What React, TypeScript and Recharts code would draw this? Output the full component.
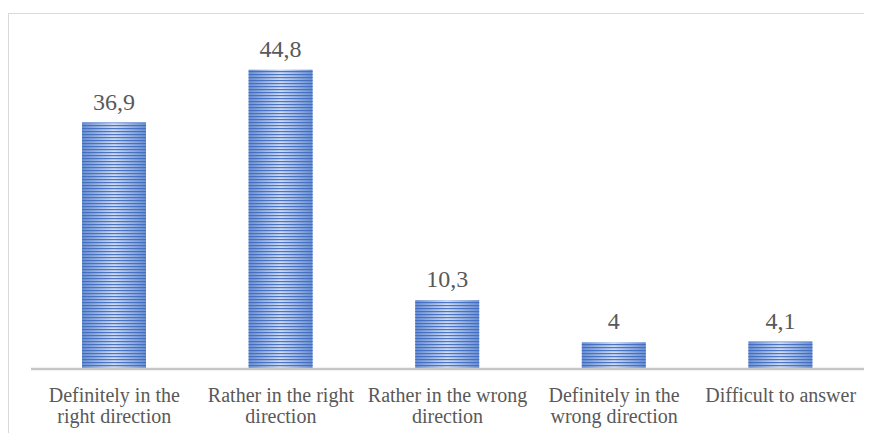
import React from "react";
import { BarChart, Bar, XAxis, YAxis, LabelList } from "recharts";

const categories = [
  "Definitely in the right direction",
  "Rather in the right direction",
  "Rather in the wrong direction",
  "Definitely in the wrong direction",
  "Difficult to answer",
];
const values = [36.9, 44.8, 10.3, 4, 4.1];
const tickLines = [
  ["Definitely in the", "right direction"],
  ["Rather in the right", "direction"],
  ["Rather in the wrong", "direction"],
  ["Definitely in the", "wrong direction"],
  ["Difficult to answer"],
];

const data = categories.map((name, i) => ({ name, value: values[i] }));

const FONT = "Liberation Serif, Times New Roman, serif";
const GREY = "#595959";

const CategoryTick = (props: any) => {
  const { x, y, index } = props;
  const lines = tickLines[index] || [];
  return (
    <g>
      {lines.map((line, i) => (
        <text
          key={i}
          x={x}
          y={y + 33 + i * 21}
          textAnchor="middle"
          fill={GREY}
          style={{ fontFamily: FONT, fontSize: 20 }}
        >
          {line}
        </text>
      ))}
    </g>
  );
};

const ValueLabel = (props: any) => {
  const { x, y, width, value } = props;
  return (
    <text
      x={x + width / 2}
      y={y - 13}
      textAnchor="middle"
      fill={GREY}
      style={{ fontFamily: FONT, fontSize: 24 }}
    >
      {String(value).replace(".", ",")}
    </text>
  );
};

const StripedBar = (props: any) => {
  const { x, y, width, height } = props;
  if (!height || height <= 0) return null;
  return (
    <g>
      <rect x={x} y={y} width={width} height={height} fill="url(#barGrad)" />
      <rect x={x} y={y} width={width} height={height} fill="url(#barStripes)" />
    </g>
  );
};

const App = () => {
  return (
    <div style={{ marginTop: 5, width: 870, height: 425, borderTop: "1.5px solid #d9d9d9", borderLeft: "1.5px solid #d9d9d9", boxSizing: "border-box" }}>
      <svg width={0} height={0} style={{ position: "absolute" }}>
        <defs>
          <linearGradient id="barGrad" x1="0" y1="0" x2="1" y2="0">
            <stop offset="0%" stopColor="#6a8fd2" />
            <stop offset="50%" stopColor="#cfdcf2" />
            <stop offset="100%" stopColor="#6a8fd2" />
          </linearGradient>
          <pattern id="barStripes" patternUnits="userSpaceOnUse" width={8} height={3}>
            <rect x={0} y={0} width={8} height={1.2} fill="#3e6bc0" fillOpacity={0.9} />
          </pattern>
        </defs>
      </svg>
      <BarChart
        width={864}
        height={420}
        data={data}
        margin={{ top: 21, left: 22, right: 9, bottom: 5 }}
      >
        <XAxis
          dataKey="name"
          axisLine={{ stroke: "#c6c6c6", strokeWidth: 2.5 }}
          tickLine={false}
          tickSize={0}
          tickMargin={0}
          height={60}
          interval={0}
          tick={<CategoryTick />}
        />
        <YAxis hide domain={[0, 50]} />
        <Bar dataKey="value" barSize={64} isAnimationActive={false} shape={<StripedBar />}>
          <LabelList dataKey="value" content={<ValueLabel />} />
        </Bar>
      </BarChart>
    </div>
  );
};

export default App;
